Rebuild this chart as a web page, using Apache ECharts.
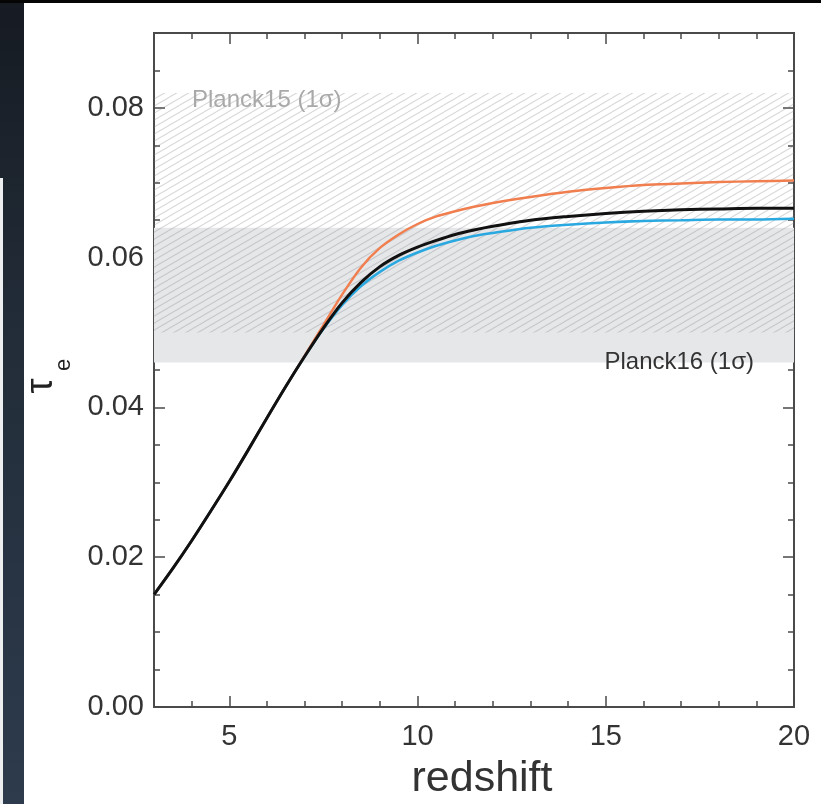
<!DOCTYPE html>
<html>
<head>
<meta charset="utf-8">
<script src="https://cdn.jsdelivr.net/npm/echarts@6/dist/echarts.min.js"></script>
<style>
html,body{margin:0;padding:0;width:821px;height:804px;overflow:hidden;}
body{background:linear-gradient(180deg,#161b22 0%,#222c38 40%,#2d3b4d 100%);position:relative;}
#topbar{position:absolute;left:0;top:0;width:821px;height:3px;background:#050505;}
#panel{position:absolute;left:24px;top:3px;width:797px;height:801px;background:#fff;}
#strip{position:absolute;left:0;top:178px;width:3px;height:626px;background:#eceef0;}
#chart{position:absolute;left:0;top:0;width:821px;height:804px;}
</style>
</head>
<body>
<div id="topbar"></div>
<div id="panel"></div>
<div id="strip"></div>
<div id="chart"></div>
<script>
// ---- data ----
const redshift = [3,3.5,4,4.5,5,5.5,6,6.5,7,7.5,8,8.5,9,9.5,10,10.5,11,11.5,12,13,14,15,16,17,18,19,20];
const tauBlack = [0.0150,0.0185,0.0222,0.0261,0.0301,0.0343,0.0386,0.0428,0.0468,0.0506,0.0540,0.0567,0.0588,0.0603,0.0614,0.0623,0.0631,0.0637,0.0642,0.0650,0.0655,0.0659,0.0662,0.0664,0.0665,0.0666,0.0666];
const tauOrange = [0.0150,0.0185,0.0222,0.0261,0.0301,0.0343,0.0386,0.0428,0.0469,0.0510,0.0551,0.0587,0.0613,0.0631,0.0645,0.0655,0.0662,0.0668,0.0673,0.0681,0.0688,0.0693,0.0697,0.0699,0.0701,0.0702,0.0703];
const tauBlue = [0.0150,0.0185,0.0222,0.0261,0.0301,0.0343,0.0386,0.0428,0.0468,0.0505,0.0537,0.0562,0.0581,0.0596,0.0607,0.0616,0.0623,0.0629,0.0633,0.0640,0.0644,0.0647,0.0649,0.0650,0.0651,0.0651,0.0652];
const planck15 = [0.050, 0.082];
const planck16 = [0.046, 0.064];
const xMajor = [5,10,15,20];
const xMinor = [4,6,7,8,9,11,12,13,14,16,17,18,19];
const yMajor = [0,0.02,0.04,0.06,0.08];
const yMinor = [0.005,0.01,0.015,0.025,0.03,0.035,0.045,0.05,0.055,0.065,0.07,0.075,0.085];

function zip(xs, ys){ return xs.map((x,i)=>[x, ys[i]]); }

function hatchPattern(){
  const w=12,h=7;
  const c=document.createElement('canvas'); c.width=w; c.height=h;
  const g=c.getContext('2d');
  g.strokeStyle='rgba(130,130,135,0.30)'; g.lineWidth=1.1;
  for (const k of [-1,0,1]){
    g.beginPath(); g.moveTo(0,h+h*k); g.lineTo(w,h*k); g.stroke();
  }
  return c;
}

const FONT = 'Liberation Sans, Arial, sans-serif';
const axisColor = '#4a4a4a';
function xAx(pos, ticks, len, labels, extra){
  return Object.assign({
    type:'value', min:3, max:20, position:pos,
    axisLine:{show:!!labels || pos==='top', onZero:false, lineStyle:{color:axisColor,width:2}},
    axisTick:{show:true, inside:true, length:len, customValues:ticks, lineStyle:{color:axisColor,width:1.5}},
    axisLabel:{show:!!labels, customValues:ticks, fontSize:29, color:'#333', margin:15, fontFamily:FONT},
    splitLine:{show:false}
  }, extra||{});
}
function yAx(pos, ticks, len, labels, extra){
  return Object.assign({
    type:'value', min:0, max:0.09, position:pos,
    axisLine:{show:!!labels || pos==='right', onZero:false, lineStyle:{color:axisColor,width:2}},
    axisTick:{show:true, inside:true, length:len, customValues:ticks, lineStyle:{color:axisColor,width:1.5}},
    axisLabel:{show:!!labels, customValues:ticks, fontSize:29, color:'#333', margin:10, fontFamily:FONT,
      formatter:v=>Number(v).toFixed(2)},
    splitLine:{show:false}
  }, extra||{});
}

const chart = echarts.init(document.getElementById('chart'), null, {renderer:'canvas'});
chart.setOption({
  animation:false,
  backgroundColor:'transparent',
  grid:{left:154, top:33, width:640, height:674, containLabel:false, outerBoundsMode:'none'},
  xAxis:[
    xAx('bottom', xMajor, 11, true, {name:'redshift', nameLocation:'middle', nameGap:51,
      nameTextStyle:{fontSize:43, color:'#333', fontFamily:FONT, padding:[0,0,0,16]}}),
    xAx('bottom', xMinor, 6, false),
    xAx('top', xMajor, 11, false),
    xAx('top', xMinor, 6, false)
  ],
  yAxis:[
    yAx('left', yMajor, 11, true),
    yAx('left', yMinor, 6, false),
    yAx('right', yMajor, 11, false),
    yAx('right', yMinor, 6, false)
  ],
  graphic:[
    {type:'text', x:42, y:386, rotation:Math.PI/2, silent:true,
      style:{text:'τ', fontSize:38, fontFamily:FONT, fill:'#222', align:'center', verticalAlign:'middle'}},
    {type:'text', x:64, y:365, rotation:Math.PI/2, silent:true,
      style:{text:'e', fontSize:22, fontFamily:FONT, fill:'#222', align:'center', verticalAlign:'middle'}}
  ],
  series:[
    {
      type:'line', name:'bands', data:[], z:1, silent:true,
      markArea:{
        silent:true,
        data:[
          [{yAxis:planck16[0], xAxis:3, itemStyle:{color:'#e6e7e9'},
            label:{show:true, formatter:'Planck16 (1σ)', position:[600,135], align:'right', verticalAlign:'middle',
              fontSize:24, color:'#333', fontFamily:FONT}},
           {yAxis:planck16[1], xAxis:20}],
          [{yAxis:planck15[0], xAxis:3, itemStyle:{color:{image:hatchPattern(), repeat:'repeat'}},
            label:{show:true, formatter:'Planck15 (1σ)', position:[38,7], align:'left', verticalAlign:'middle',
              fontSize:24, color:'#a9a9a9', fontFamily:FONT}},
           {yAxis:planck15[1], xAxis:20}]
        ]
      }
    },
    {type:'line', name:'blue', data:zip(redshift,tauBlue), z:3, smooth:0.3, showSymbol:false,
      lineStyle:{color:'#2aa8e0', width:2.6}},
    {type:'line', name:'orange', data:zip(redshift,tauOrange), z:3, smooth:0.3, showSymbol:false,
      lineStyle:{color:'#f07e4e', width:2.4}},
    {type:'line', name:'black', data:zip(redshift,tauBlack), z:4, smooth:0.3, showSymbol:false,
      lineStyle:{color:'#111', width:3}}
  ]
});
</script>
</body>
</html>
